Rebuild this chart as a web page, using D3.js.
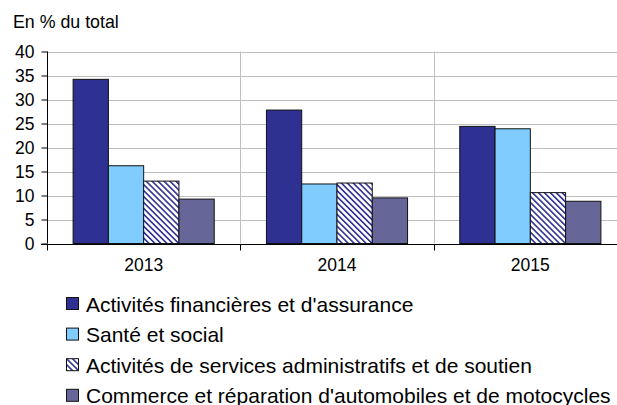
<!DOCTYPE html>
<html>
<head>
<meta charset="utf-8">
<script src="https://cdn.jsdelivr.net/npm/d3@7"></script>
<style>
  body { margin: 0; background: #fff; }
  text { font-family: "Liberation Sans", Arial, sans-serif; fill: #000; }
</style>
</head>
<body>
<div id="chart"></div>
<script>
const years = ['2013', '2014', '2015'];
const seriesNames = [
  'Activités financières et d\'assurance',
  'Santé et social',
  'Activités de services administratifs et de soutien',
  'Commerce et réparation d\'automobiles et de motocycles',
];
const financeValues = [34.2, 27.8, 24.4];
const santeValues = [16.2, 12.4, 23.9];
const servicesValues = [13.0, 12.6, 10.6];
const commerceValues = [9.25, 9.5, 8.8];
const yTicks = [0, 5, 10, 15, 20, 25, 30, 35, 40];

const seriesValues = [financeValues, santeValues, servicesValues, commerceValues];
const fills = ['#2e3192', '#80ccff', 'url(#hatch)', '#666699'];

const W = 617;
const H = 405;
const margin = { top: 51.5, left: 47, bottom: 243.5, right: 627 };

const svg = d3.select('#chart').append('svg')
  .attr('width', W)
  .attr('height', H);

// hatch pattern for the third series
const defs = svg.append('defs');
const pat = defs.append('pattern')
  .attr('id', 'hatch')
  .attr('patternUnits', 'userSpaceOnUse')
  .attr('width', 4.2)
  .attr('height', 4.2)
  .attr('patternTransform', 'rotate(-45)');
pat.append('rect').attr('width', 4.2).attr('height', 4.2).attr('fill', '#fff');
pat.append('rect').attr('x', 0).attr('width', 1.6).attr('height', 4.2).attr('fill', '#2e3192');

const xScale = d3.scaleBand()
  .domain(years)
  .range([margin.left, margin.right]);

const xInner = d3.scaleBand()
  .domain(d3.range(seriesNames.length))
  .range([0, xScale.bandwidth()])
  .paddingOuter(0.74);

const yScale = d3.scaleLinear()
  .domain([0, 40])
  .range([margin.bottom, margin.top]);

// grid
svg.append('g')
  .selectAll('line')
  .data(yTicks.slice(1))
  .enter()
  .append('line')
  .attr('x1', margin.left)
  .attr('x2', margin.right)
  .attr('y1', d => Math.round(yScale(d)) + 0.5)
  .attr('y2', d => Math.round(yScale(d)) + 0.5)
  .attr('stroke', '#c0c0c0');

svg.append('g')
  .selectAll('line')
  .data(years.slice(1))
  .enter()
  .append('line')
  .attr('x1', d => Math.round(xScale(d)) + 0.5)
  .attr('x2', d => Math.round(xScale(d)) + 0.5)
  .attr('y1', margin.top)
  .attr('y2', margin.bottom)
  .attr('stroke', '#c0c0c0');

// bars
const group = svg.append('g')
  .selectAll('g')
  .data(years)
  .enter()
  .append('g')
  .attr('transform', d => `translate(${xScale(d)},0)`);

group.selectAll('rect')
  .data((d, i) => seriesValues.map((vals, s) => ({ s, v: vals[i] })))
  .enter()
  .append('rect')
  .attr('x', d => xInner(d.s))
  .attr('y', d => yScale(d.v))
  .attr('width', xInner.bandwidth())
  .attr('height', d => yScale(0) - yScale(d.v))
  .attr('fill', d => fills[d.s])
  .attr('stroke', '#111')
  .attr('stroke-width', 1);

// axes
const yAxis = d3.axisLeft(yScale)
  .tickValues(yTicks)
  .tickSize(6)
  .tickPadding(7);
const yG = svg.append('g')
  .attr('transform', `translate(${margin.left + 0.5},0)`)
  .call(yAxis);
yG.select('.domain').remove();
yG.append('line')
  .attr('y1', margin.top).attr('y2', margin.bottom)
  .attr('stroke', '#000');
yG.selectAll('text')
  .style('font-size', '17.5px')
  .style('font-family', '"Liberation Sans", Arial, sans-serif');

const xG = svg.append('g')
  .attr('transform', `translate(0,${Math.round(margin.bottom) + 0.5})`);
xG.append('line')
  .attr('x1', margin.left - 6).attr('x2', margin.right)
  .attr('stroke', '#000');
xG.selectAll('.tk')
  .data(years)
  .enter()
  .append('line')
  .attr('class', 'tk')
  .attr('x1', d => Math.round(xScale(d)) + 0.5)
  .attr('x2', d => Math.round(xScale(d)) + 0.5)
  .attr('y1', 0)
  .attr('y2', 6)
  .attr('stroke', '#000');
xG.selectAll('.lbl')
  .data(years)
  .enter()
  .append('text')
  .attr('class', 'lbl')
  .attr('x', d => xScale(d) + xScale.bandwidth() / 2)
  .attr('y', 26.5)
  .attr('text-anchor', 'middle')
  .style('font-size', '17.5px')
  .text(d => d);

// title
svg.append('text')
  .attr('x', 13)
  .attr('y', 28)
  .style('font-size', '17.8px')
  .text('En % du total');

// legend
const legend = svg.append('g')
  .selectAll('g')
  .data(seriesNames)
  .enter()
  .append('g')
  .attr('transform', (d, i) => `translate(66,${304 + i * 30.6})`);

legend.append('rect')
  .attr('x', 0.5)
  .attr('y', -6.5)
  .attr('width', 12)
  .attr('height', 12)
  .attr('fill', (d, i) => fills[i])
  .attr('stroke', '#111');

legend.append('text')
  .attr('x', 20)
  .attr('y', 7.5)
  .style('font-size', '21px')
  .text(d => d);
</script>
</body>
</html>
